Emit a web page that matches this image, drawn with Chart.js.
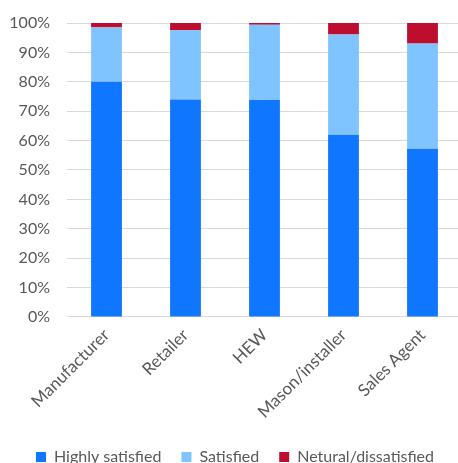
<!DOCTYPE html>
<html>
<head>
<meta charset="utf-8">
<script src="https://cdn.jsdelivr.net/npm/chart.js@4.4.0/dist/chart.umd.min.js"></script>
<style>
  html, body { margin: 0; padding: 0; background: #fff; overflow: hidden; }
  #wrap { width: 462px; height: 477px; }
</style>
</head>
<body>
<div id="wrap"><canvas id="myChart" width="462" height="477"></canvas></div>
<script>
'use strict'

// DATA
const categories = ['Manufacturer', 'Retailer', 'HEW', 'Mason/installer', 'Sales Agent'];
const highlySatisfied = [80, 74, 73.8, 62, 57.2];
const satisfied = [18.5, 23.5, 25.6, 34.1, 35.8];
const dissatisfied = [1.5, 2.5, 0.6, 3.9, 7];
const yTicks = [0, 10, 20, 30, 40, 50, 60, 70, 80, 90, 100];

const FONT = 'Lato, "Open Sans", sans-serif';

const data = {
  labels: categories,
  datasets: [{
    label: 'Highly satisfied',
    data: highlySatisfied,
    backgroundColor: 'rgb(14, 118, 255)'
  },
  {
    label: 'Satisfied',
    data: satisfied,
    backgroundColor: 'rgb(128, 196, 255)'
  },
  {
    label: 'Netural/dissatisfied',
    data: dissatisfied,
    backgroundColor: 'rgb(190, 14, 48)'
  }]
};

const config = {
  type: 'bar',
  data: data,
  options: {
    responsive: false,
    animation: false,
    barPercentage: 0.39,
    categoryPercentage: 1,
    layout: {
      padding: { left: 8, right: 0, top: 23, bottom: 2 }
    },
    plugins: {
      tooltip: { enabled: false },
      legend: {
        position: 'bottom',
        labels: {
          boxWidth: 10,
          boxHeight: 10,
          padding: 20,
          color: '#595959',
          font: { family: FONT, size: 16 }
        }
      }
    },
    scales: {
      x: {
        stacked: true,
        grid: { display: false },
        border: { color: '#d9d9d9' },
        afterFit: (axis) => {
          axis.paddingLeft = 0;
          axis.paddingRight = 0;
          axis.height = axis.height + 7;
        },
        ticks: {
          color: '#595959',
          maxRotation: 45,
          minRotation: 45,
          padding: 0,
          font: { family: FONT, size: 17 }
        }
      },
      y: {
        stacked: true,
        min: 0,
        max: 100,
        afterBuildTicks: (axis) => {
          axis.ticks = yTicks.map(v => ({ value: v }));
        },
        afterFit: (axis) => {
          axis.width = 59;
          axis.paddingTop = 0;
          axis.paddingBottom = 0;
        },
        grid: { color: '#d9d9d9', lineWidth: 1, drawTicks: false },
        border: { display: false },
        ticks: {
          color: '#595959',
          padding: 17,
          font: { family: FONT, size: 16 },
          callback: (v) => v + '%'
        }
      }
    }
  }
};

let canvasChart = document.getElementById('myChart');
const myChart = new Chart(canvasChart, config);
</script>
</body>
</html>
